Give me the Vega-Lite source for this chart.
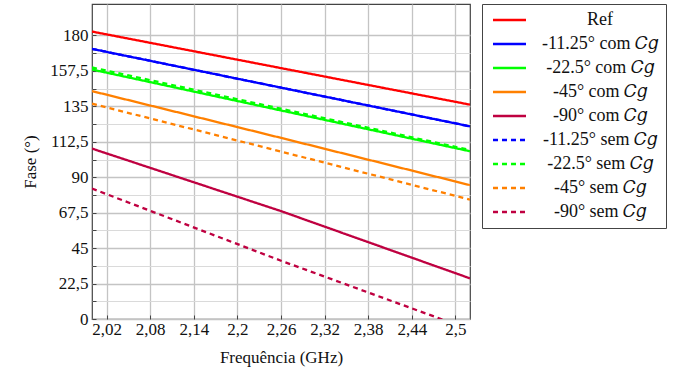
{
  "$schema": "https://vega.github.io/schema/vega-lite/v6.json",
  "width": 378,
  "height": 315,
  "autosize": "none",
  "padding": {"left": 92, "top": 4, "right": 203, "bottom": 57},
  "background": "white",
  "config": {
    "font": "Liberation Serif",
    "view": {"stroke": "#444", "strokeWidth": 1.2},
    "style": {"guide-label": {"font": "Liberation Serif"}, "guide-title": {"font": "Liberation Serif"}},
    "axis": {"labelFontSize": 17, "titleFontSize": 17, "titleFontWeight": "normal", "labelColor": "#111", "titleColor": "#111", "domain": false}
  },
  "data": {"values": [
    {"series": "Ref", "freq": 2.0, "phase": 182.5},
    {"series": "Ref", "freq": 2.26, "phase": 159.3},
    {"series": "Ref", "freq": 2.52, "phase": 136.1},
    {"series": "-11.25° com 𝐶𝑔", "freq": 2.0, "phase": 171.5},
    {"series": "-11.25° com 𝐶𝑔", "freq": 2.26, "phase": 146.9},
    {"series": "-11.25° com 𝐶𝑔", "freq": 2.52, "phase": 122.3},
    {"series": "-22.5° com 𝐶𝑔", "freq": 2.0, "phase": 158.4},
    {"series": "-22.5° com 𝐶𝑔", "freq": 2.26, "phase": 132.4},
    {"series": "-22.5° com 𝐶𝑔", "freq": 2.52, "phase": 106.5},
    {"series": "-45° com 𝐶𝑔", "freq": 2.0, "phase": 144.7},
    {"series": "-45° com 𝐶𝑔", "freq": 2.26, "phase": 115.0},
    {"series": "-45° com 𝐶𝑔", "freq": 2.52, "phase": 85.0},
    {"series": "-90° com 𝐶𝑔", "freq": 2.0, "phase": 108.2},
    {"series": "-90° com 𝐶𝑔", "freq": 2.26, "phase": 68.5},
    {"series": "-90° com 𝐶𝑔", "freq": 2.52, "phase": 25.8},
    {"series": "-11.25° sem 𝐶𝑔", "freq": 2.0, "phase": 171.5},
    {"series": "-11.25° sem 𝐶𝑔", "freq": 2.26, "phase": 146.9},
    {"series": "-11.25° sem 𝐶𝑔", "freq": 2.52, "phase": 122.3},
    {"series": "-22.5° sem 𝐶𝑔", "freq": 2.0, "phase": 159.7},
    {"series": "-22.5° sem 𝐶𝑔", "freq": 2.26, "phase": 133.5},
    {"series": "-22.5° sem 𝐶𝑔", "freq": 2.52, "phase": 107.3},
    {"series": "-45° sem 𝐶𝑔", "freq": 2.0, "phase": 136.7},
    {"series": "-45° sem 𝐶𝑔", "freq": 2.26, "phase": 106.3},
    {"series": "-45° sem 𝐶𝑔", "freq": 2.52, "phase": 75.8},
    {"series": "-90° sem 𝐶𝑔", "freq": 2.0, "phase": 82.8},
    {"series": "-90° sem 𝐶𝑔", "freq": 2.26, "phase": 37.0},
    {"series": "-90° sem 𝐶𝑔", "freq": 2.52, "phase": -6.7}
  ]},
  "mark": {"type": "line", "strokeWidth": 2.3, "clip": true},
  "encoding": {
    "x": {
      "field": "freq", "type": "quantitative",
      "scale": {"domain": [2.0, 2.52], "nice": false, "zero": false},
      "axis": {
        "values": [2.02, 2.08, 2.14, 2.2, 2.26, 2.32, 2.38, 2.44, 2.5],
        "format": ".3~g",
        "labelExpr": "replace(datum.label, '.', ',')",
        "labelFont": "Liberation Serif", "titleFont": "Liberation Serif",
        "title": "Frequência (GHz)",
        "titlePadding": 12,
        "labelPadding": 6,
        "tickSize": -4, "tickColor": "#444",
        "gridColor": "#c4c4c4", "gridWidth": 1.3
      }
    },
    "y": {
      "field": "phase", "type": "quantitative",
      "scale": {"domain": [0, 200], "nice": false},
      "axis": {
        "values": [0, 11.25, 22.5, 33.75, 45, 56.25, 67.5, 78.75, 90, 101.25, 112.5, 123.75, 135, 146.25, 157.5, 168.75, 180],
        "labelExpr": "datum.value % 22.5 === 0 ? replace(format(datum.value, '~g'), '.', ',') : ''",
        "labelFont": "Liberation Serif", "titleFont": "Liberation Serif",
        "title": "Fase (°)",
        "titlePadding": 10,
        "labelPadding": 8,
        "tickSize": -4, "tickColor": "#444",
        "gridColor": {"condition": {"test": "datum.value % 22.5 === 0", "value": "#c4c4c4"}, "value": "#dadada"},
        "gridWidth": {"condition": {"test": "datum.value % 22.5 === 0", "value": 1.3}, "value": 1}
      }
    },
    "color": {
      "field": "series", "type": "nominal",
      "scale": {
        "domain": ["Ref", "-11.25° com 𝐶𝑔", "-22.5° com 𝐶𝑔", "-45° com 𝐶𝑔", "-90° com 𝐶𝑔", "-11.25° sem 𝐶𝑔", "-22.5° sem 𝐶𝑔", "-45° sem 𝐶𝑔", "-90° sem 𝐶𝑔"],
        "range": ["#ff0000", "#0000ff", "#00ff00", "#ff8000", "#bf0040", "#0000ff", "#00ff00", "#ff8000", "#bf0040"]
      },
      "legend": {
        "title": null,
        "orient": "none", "legendX": 390, "legendY": 0,
        "symbolType": "M-1,0H5.6", "symbolSize": 100, "symbolStrokeWidth": 2.5,
        "labelFont": "Liberation Serif", "labelFontSize": 18, "labelColor": "#111",
        "labelAlign": "center", "labelOffset": 93, "labelLimit": 300,
        "rowPadding": 6,
        "padding": 7,
        "strokeColor": "#444", "fillColor": "white"
      }
    },
    "strokeDash": {
      "field": "series", "type": "nominal",
      "scale": {
        "domain": ["Ref", "-11.25° com 𝐶𝑔", "-22.5° com 𝐶𝑔", "-45° com 𝐶𝑔", "-90° com 𝐶𝑔", "-11.25° sem 𝐶𝑔", "-22.5° sem 𝐶𝑔", "-45° sem 𝐶𝑔", "-90° sem 𝐶𝑔"],
        "range": [[1, 0], [1, 0], [1, 0], [1, 0], [1, 0], [5, 4], [5, 4], [5, 4], [5, 4]]
      },
      "legend": null
    }
  }
}
